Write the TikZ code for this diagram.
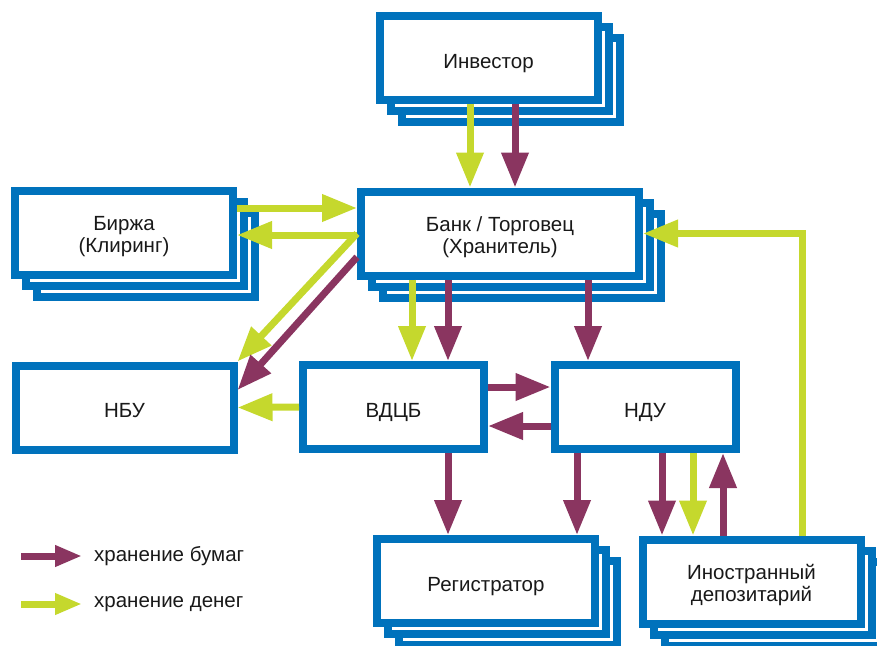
\documentclass[tikz,border=0pt]{standalone}
\usepackage{fontspec}
\setmainfont{Liberation Sans}
\usetikzlibrary{arrows.meta,positioning,shadows}
\definecolor{boxblue}{RGB}{0,114,188}
\definecolor{paperclr}{RGB}{138,53,96}
\definecolor{moneyclr}{RGB}{197,216,45}
\tikzset{
    box/.style = {rectangle, draw=boxblue, fill=white, line width=8pt, text=black!90,
        minimum width=218pt, minimum height=84pt, align=center,
        font=\fontsize{20.5}{22.5}\selectfont, text height=22pt, text depth=2pt},
    twolines/.style = {text height=40.5pt, text depth=0pt},
    small/.style = {box, minimum width=181pt},
    stack/.style = {copy shadow={shadow xshift=22pt, shadow yshift=-22pt},
        copy shadow={shadow xshift=11pt, shadow yshift=-11pt}},
    paper/.style = {draw=paperclr, line width=7pt, -{Triangle[length=35pt,width=26pt]}},
    money/.style = {paper, draw=moneyclr},
    key/.style = {line width=7pt, -{Triangle[length=27pt,width=20pt]}},
    keytext/.style = {anchor=west, inner sep=0pt, text=black!90, font=\fontsize{20.5}{24}\selectfont}
}
\begin{document}
\begin{tikzpicture}[x=1pt, y=-1pt]
  \useasboundingbox (0,0) rectangle (877,645);

  \node[box, stack] (inv) at (488.5,58) {Инвестор};

  \node[box, twolines, stack, minimum width=278pt] (bank) at (500,233.5) {Банк / Торговец\\(Хранитель)};

  \node[box, twolines, stack] (birzha) at (124,232.5) {Биржа\\(Клиринг)};

  \node[box] (nbu) at (124.5,407.5) {НБУ};

  \node[small] (vdcb) at (393.5,407) {ВДЦБ};

  \node[small] (ndu) at (645,407) {НДУ};

  \node[box, stack] (reg) at (486,581) {Регистратор};

  \node[box, twolines, stack] (fdep) at (751.5,581.5) {Иностранный\\депозитарий};

  % investor
  \draw[money] ([xshift=-18.5pt]inv.south) -- ([xshift=-30pt]bank.north);
  \draw[paper] ([xshift=26.5pt]inv.south) -- ([xshift=15pt]bank.north);

  % exchange and nbu
  \draw[money] ([yshift=24.5pt]birzha.east) -- ([yshift=25.5pt]bank.west);
  \draw[money] ([yshift=-1.5pt]bank.west) -- ([yshift=-2.5pt]birzha.east);
  \draw[money] (bank.west) -- (nbu.north east);
  \draw[paper] ([yshift=-23.5pt]bank.west) -- ([yshift=17.5pt]nbu.east);
  \draw[money] (vdcb.west) -- (nbu.east);

  % bank down
  \draw[money] ([xshift=-88pt]bank.south) -- ([xshift=18.5pt]vdcb.north);
  \draw[paper] ([xshift=-52pt]bank.south) -- ([xshift=54.5pt]vdcb.north);
  \draw[paper] ([xshift=88pt]bank.south) -- ([xshift=-57pt]ndu.north);

  % depositories
  \draw[paper] ([yshift=20pt]vdcb.east) -- ([yshift=20pt]ndu.west);
  \draw[paper] ([yshift=-19pt]ndu.west) -- ([yshift=-19pt]vdcb.east);
  \draw[paper] ([xshift=54.5pt]vdcb.south) -- ([xshift=-38pt]reg.north);
  \draw[paper] ([xshift=-68pt]ndu.south) -- ([xshift=91pt]reg.north);
  \draw[paper] ([xshift=17pt]ndu.south) -- ([xshift=-89.5pt]fdep.north);
  \draw[money] ([xshift=48pt]ndu.south) -- ([xshift=-58.5pt]fdep.north);
  \draw[paper] ([xshift=-28.5pt]fdep.north) -- ([xshift=78pt]ndu.south);
  \draw[money] ([xshift=50.5pt]fdep.north) |- (bank.east);

  % legend
  \node[keytext] (kpaper) at (94,556) {хранение бумаг};
  \node[keytext] (kmoney) at (94,604) {хранение денег};
  \coordinate (kp) at (21,556);
  \coordinate (km) at (21,604);
  \draw[key, draw=paperclr] (kp) -- ([xshift=-12pt]kpaper.west);
  \draw[key, draw=moneyclr] (km) -- ([xshift=-12pt]kmoney.west);
\end{tikzpicture}
\end{document}
